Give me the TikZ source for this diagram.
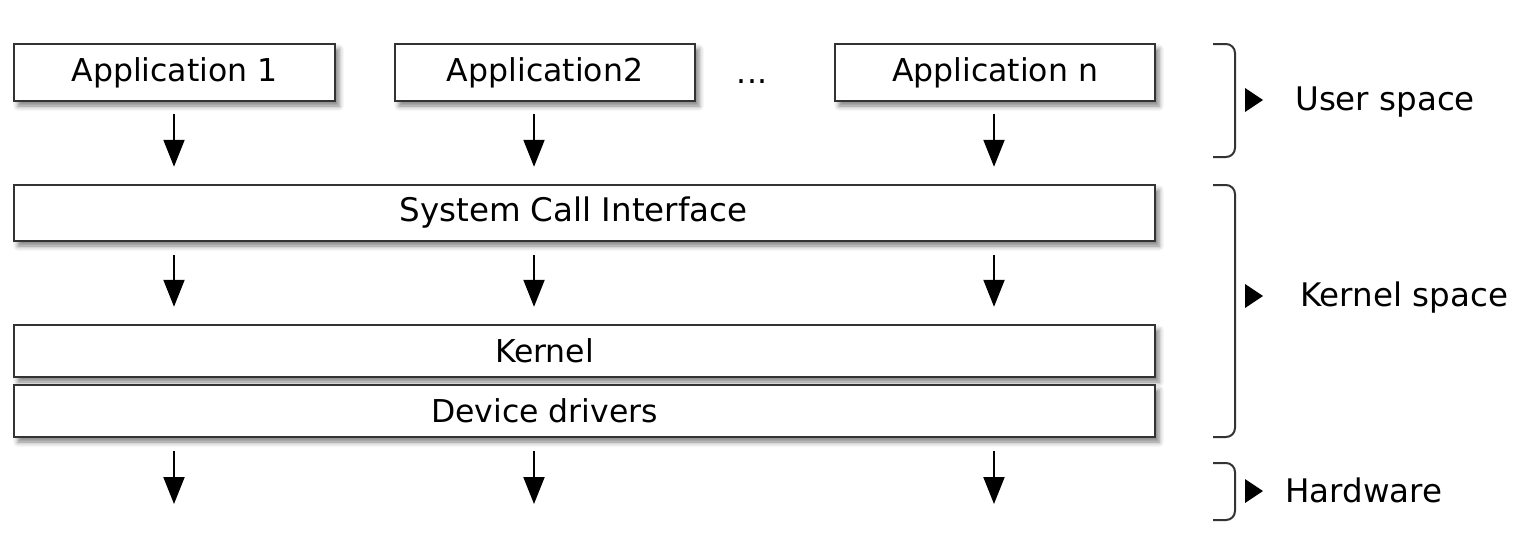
\documentclass[tikz,border=0pt]{standalone}
\usepackage{fontspec}
\setmainfont{DejaVu Sans}
\usetikzlibrary{calc, arrows.meta, shadows.blur}
\definecolor{boxgray}{HTML}{333333}

\tikzset{
	layer/.style={draw=boxgray, line width=2.4pt, fill=white, inner sep=0pt,
		blur shadow={shadow xshift=4pt, shadow yshift=-5pt, shadow blur radius=5pt, shadow opacity=50},
		font=\fontsize{31.5}{37}\selectfont},
	boxtext/.style={font=\fontsize{31.5}{37}\selectfont, inner sep=0pt},
	flow/.style={line width=2pt, -{Triangle[width=21pt,length=27pt]}},
	bracket/.style={draw=boxgray, line width=2pt, rounded corners=9pt},
	spacelabel/.style={font=\fontsize{32.5}{38}\selectfont, anchor=base west, inner sep=0pt}
}

\begin{document}
\begin{tikzpicture}[x=1pt, y=-1pt]
	\useasboundingbox (0,0) rectangle (1526,550);
	% Applications
	\node[layer, minimum width=321pt, minimum height=57pt] (app1) at (174.5,72.5) {Application 1};
	\node[layer, minimum width=300pt, minimum height=57pt] (app2) at (545,72.5) {Application2};
	\node[boxtext, anchor=base] (dots) at (752,83) {...};
	\node[layer, minimum width=320pt, minimum height=57pt] (appn) at (995,72.5) {Application n};
	% Kernel layers
	\node[layer, minimum width=1141pt, minimum height=56pt] (sci) at (584.5,213) {};
	\node[boxtext, font=\fontsize{32.5}{38}\selectfont] (scitext) at ([xshift=-11pt]sci.center) {System Call Interface};
	\node[layer, minimum width=1141pt, minimum height=52pt] (kernel) at (584.5,351) {};
	\node[boxtext] (kerneltext) at ([xshift=-40pt]kernel.center) {Kernel};
	\node[layer, minimum width=1141pt, minimum height=52pt] (drivers) at (584.5,411) {};
	\node[boxtext] (driverstext) at ([xshift=-40pt]drivers.center) {Device drivers};
	% Arrow columns
	\coordinate (col1) at (174,0);
	\coordinate (col2) at (534,0);
	\coordinate (col3) at (994,0);
	\coordinate (hw) at (0,504);
	\foreach \c in {col1,col2,col3} {
		\draw[flow] ($(app1.south -| \c)+(0,12)$) -- ($(sci.north -| \c)+(0,-17)$);
		\draw[flow] ($(sci.south -| \c)+(0,13)$) -- ($(kernel.north -| \c)+(0,-17)$);
		\draw[flow] ($(drivers.south -| \c)+(0,13)$) -- (hw -| \c);
	}
	% Brackets
	\draw[bracket] (1213,44) -- (1235,44) -- (1235,157) -- (1213,157);
	\draw[bracket] (1213,185) -- (1235,185) -- (1235,437) -- (1213,437);
	\draw[bracket] (1213,463) -- (1235,463) -- (1235,520) -- (1213,520);
	% Markers and labels
	\fill (1245,88) -- (1263,100) -- (1245,112) -- cycle;
	\fill (1245,284) -- (1263,296) -- (1245,308) -- cycle;
	\fill (1245,479) -- (1263,491) -- (1245,503) -- cycle;
	\node[spacelabel] (user) at (1295,110) {User space};
	\node[spacelabel] (kspace) at (1300,306) {Kernel space};
	\node[spacelabel] (hard) at (1285,502) {Hardware};
\end{tikzpicture}
\end{document}
